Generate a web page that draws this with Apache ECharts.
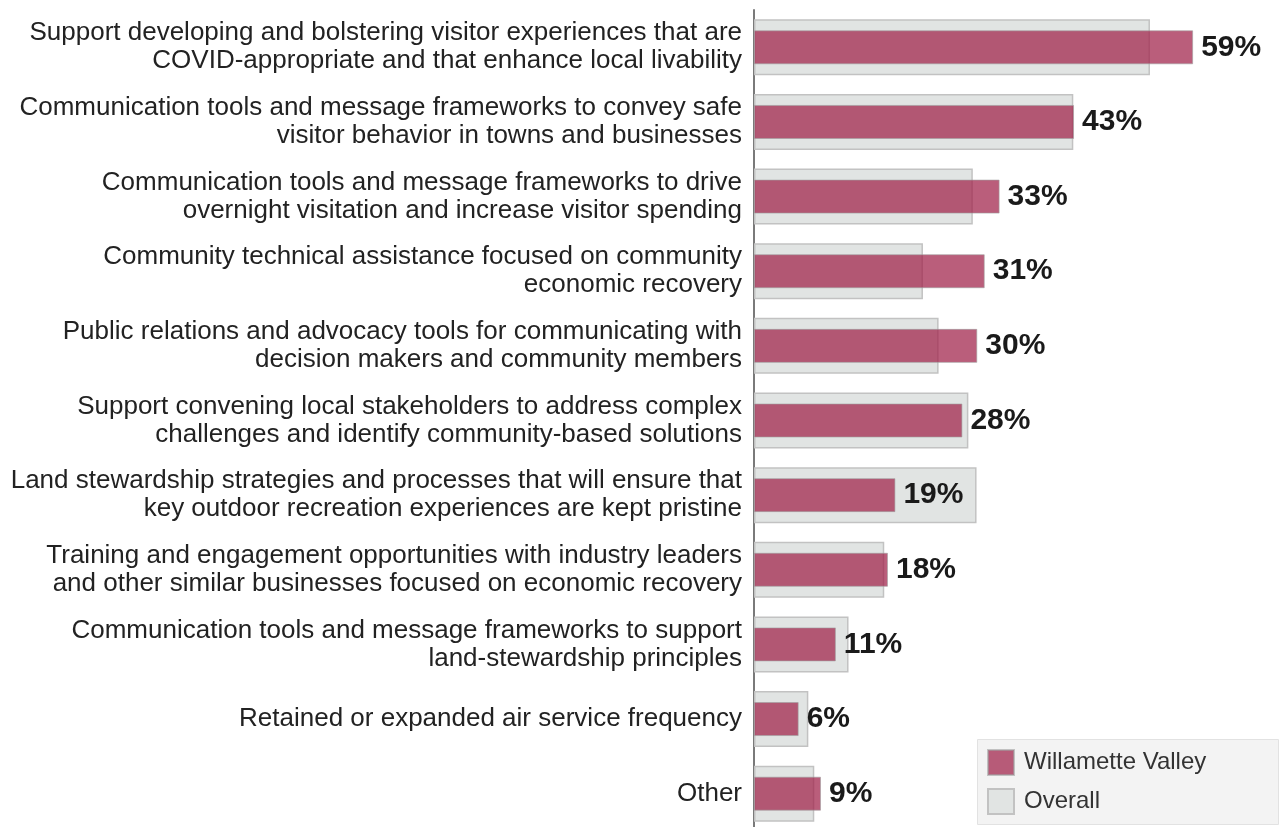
<!DOCTYPE html>
<html>
<head>
<meta charset="utf-8">
<title>Willamette Valley vs Overall</title>
<script src="https://cdn.jsdelivr.net/npm/echarts@6/dist/echarts.min.js"></script>
<style>
  html, body { margin: 0; padding: 0; background: #ffffff; }
  #chart { width: 1280px; height: 827px; }
</style>
</head>
<body>
<div id="chart"></div>
<script>
// Survey topics, listed top to bottom
const categories = [
  'Support developing and bolstering visitor experiences that are\nCOVID-appropriate and that enhance local livability',
  'Communication tools and message frameworks to convey safe\nvisitor behavior in towns and businesses',
  'Communication tools and message frameworks to drive\novernight visitation and increase visitor spending',
  'Community technical assistance focused on community\neconomic recovery',
  'Public relations and advocacy tools for communicating with\ndecision makers and community members',
  'Support convening local stakeholders to address complex\nchallenges and identify community-based solutions',
  'Land stewardship strategies and processes that will ensure that\nkey outdoor recreation experiences are kept pristine',
  'Training and engagement opportunities with industry leaders\nand other similar businesses focused on economic recovery',
  'Communication tools and message frameworks to support\nland-stewardship principles',
  'Retained or expanded air service frequency',
  'Other'
];

// Share of respondents (%)
const willametteValley = [59, 43, 33, 31, 30, 28, 19, 18, 11, 6, 9];
const overall = [53.2, 42.9, 29.4, 22.7, 24.8, 28.8, 29.9, 17.5, 12.7, 7.3, 8.1];

const seriesNames = ['Willamette Valley', 'Overall'];

const FONT = '"Liberation Sans", Arial, sans-serif';

const legendCommon = {
  left: 987,
  padding: 0,
  icon: 'rect',
  itemWidth: 26,
  itemHeight: 25,
  itemGap: 10,
  textStyle: { fontFamily: FONT, fontSize: 24, color: '#333333', padding: [0, 0, 0, 5] }
};

const chart = echarts.init(document.getElementById('chart'), null, { renderer: 'canvas' });

chart.setOption({
  animation: false,
  backgroundColor: '#ffffff',
  grid: {
    left: 754, right: 5, top: 10, bottom: -4,
    containLabel: false,
    outerBoundsMode: 'none'
  },
  // legend panel
  graphic: [{
    type: 'rect',
    left: 977,
    top: 739,
    z: 0,
    shape: { width: 301, height: 85 },
    style: { fill: '#f3f3f3', stroke: '#e2e2e2', lineWidth: 1 }
  }],
  legend: [
    Object.assign({ top: 749, data: [seriesNames[0]] }, legendCommon),
    Object.assign({ top: 788, data: [seriesNames[1]] }, legendCommon)
  ],
  xAxis: { type: 'value', min: 0, max: 70, show: false },
  yAxis: [
    {
      type: 'category',
      data: categories,
      inverse: true,
      axisLine: { show: true, lineStyle: { color: '#7a7a7a', width: 2 } },
      axisTick: { show: false },
      splitLine: { show: false },
      axisLabel: {
        margin: 12,
        fontFamily: FONT,
        fontSize: 26,
        lineHeight: 28,
        color: '#222222',
        align: 'right'
      }
    },
    {
      type: 'category',
      data: categories,
      inverse: true,
      show: false
    }
  ],
  series: [
    {
      name: seriesNames[1],
      type: 'bar',
      yAxisIndex: 0,
      barWidth: 56,
      data: overall,
      itemStyle: { color: '#e1e4e3', borderColor: '#c2c2c2', borderWidth: 1.5 },
      z: 2
    },
    {
      name: seriesNames[0],
      type: 'bar',
      yAxisIndex: 1,
      barWidth: 34,
      data: willametteValley,
      itemStyle: { color: 'rgba(160,32,72,0.72)', borderColor: 'rgba(160,160,160,0.6)', borderWidth: 1 },
      label: {
        show: true,
        position: 'right',
        distance: 8,
        formatter: '{c}%',
        fontFamily: FONT,
        fontSize: 30,
        fontWeight: 'bold',
        color: '#1a1a1a'
      },
      z: 3
    }
  ]
});
</script>
</body>
</html>
